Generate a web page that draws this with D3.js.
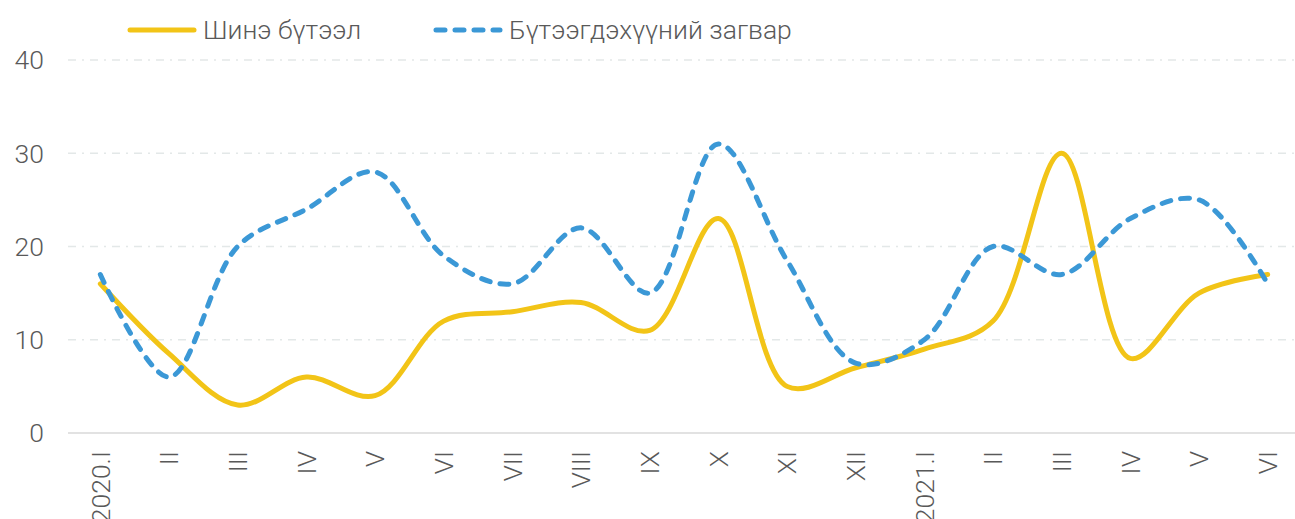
<!DOCTYPE html>
<html>
<head>
<meta charset="utf-8">
<script src="https://cdn.jsdelivr.net/npm/d3@7"></script>
<style>
  body { margin: 0; background: #fff; }
  text { font-family: Roboto, "Noto Sans", sans-serif; font-weight: 300; fill: #595959; }
</style>
</head>
<body>
<div id="chart"></div>
<script>
const width = 1295;
const height = 519;
const margin = { top: 60, right: -7, bottom: 86, left: 66 };

// data
const categories = ["2020.I", "II", "III", "IV", "V", "VI", "VII", "VIII", "IX", "X", "XI", "XII",
  "2021.I", "II ", "III ", "IV ", "V ", "VI "];
const seriesNames = ["Шинэ бүтээл", "Бүтээгдэхүүний загвар"];
const inventions = [16, 8.5, 3, 6, 4, 12, 13, 14, 11, 23, 5, 7, 9, 12, 30, 8, 15, 17];
const designs = [17, 6, 20, 24, 28, 19, 16, 22, 15, 31, 18.5, 7.5, 10, 20, 17, 23, 25, 16];
const yTicks = [0, 10, 20, 30, 40];
const colors = ["#f2c417", "#3b98d6"];

const fontSize = "26.5px";

const svg = d3.select("#chart").append("svg")
  .attr("width", width)
  .attr("height", height);

const x = d3.scaleBand()
  .domain(categories)
  .range([margin.left, width - margin.right]);

const y = d3.scaleLinear()
  .domain([0, 40])
  .range([height - margin.bottom, margin.top]);

// grid lines
svg.append("g")
  .selectAll("line")
  .data(yTicks.filter(d => d > 0))
  .enter().append("line")
  .attr("x1", margin.left + 2)
  .attr("x2", 1295)
  .attr("y1", d => y(d))
  .attr("y2", d => y(d))
  .attr("stroke", "#e3e8e8")
  .attr("stroke-width", 1.5)
  .attr("stroke-dasharray", "8,6,2,6");

// base line
svg.append("line")
  .attr("x1", margin.left + 2)
  .attr("x2", 1295)
  .attr("y1", y(0))
  .attr("y2", y(0))
  .attr("stroke", "#d9d9d9")
  .attr("stroke-width", 1.5);

// y tick labels
svg.append("g")
  .selectAll("text")
  .data(yTicks)
  .enter().append("text")
  .attr("x", 44)
  .attr("y", d => y(d))
  .attr("dy", "0.35em")
  .attr("text-anchor", "end")
  .style("font-size", fontSize)
  .text(d => d);

// x labels, rotated
svg.append("g")
  .selectAll("text")
  .data(categories)
  .enter().append("text")
  .attr("transform", d => `translate(${x(d) + x.bandwidth() / 2},451) rotate(-90)`)
  .attr("dy", "0.35em")
  .attr("text-anchor", "end")
  .style("font-size", fontSize)
  .text(d => d.trim());

const line = d3.line()
  .x((d, i) => x(categories[i]) + x.bandwidth() / 2)
  .y(d => y(d))
  .curve(d3.curveCatmullRom.alpha(0.5));

svg.append("path")
  .datum(inventions)
  .attr("d", line)
  .attr("fill", "none")
  .attr("stroke", colors[0])
  .attr("stroke-width", 5)
  .attr("stroke-linecap", "round");

svg.append("path")
  .datum(designs)
  .attr("d", line)
  .attr("fill", "none")
  .attr("stroke", colors[1])
  .attr("stroke-width", 5)
  .attr("stroke-linecap", "round")
  .attr("stroke-dasharray", "9,10");

// legend
const legendItems = [
  { name: seriesNames[0], color: colors[0], dash: null, x: 130 },
  { name: seriesNames[1], color: colors[1], dash: "9,10", x: 436 }
];
const legend = svg.selectAll(".legend")
  .data(legendItems)
  .enter().append("g")
  .attr("class", "legend")
  .attr("transform", d => `translate(${d.x},30)`);

legend.append("line")
  .attr("x1", 0)
  .attr("x2", 64)
  .attr("stroke", d => d.color)
  .attr("stroke-width", 5)
  .attr("stroke-linecap", "round")
  .attr("stroke-dasharray", d => d.dash);

legend.append("text")
  .attr("x", 73)
  .attr("dy", "0.35em")
  .style("font-size", fontSize)
  .text(d => d.name);
</script>
</body>
</html>
